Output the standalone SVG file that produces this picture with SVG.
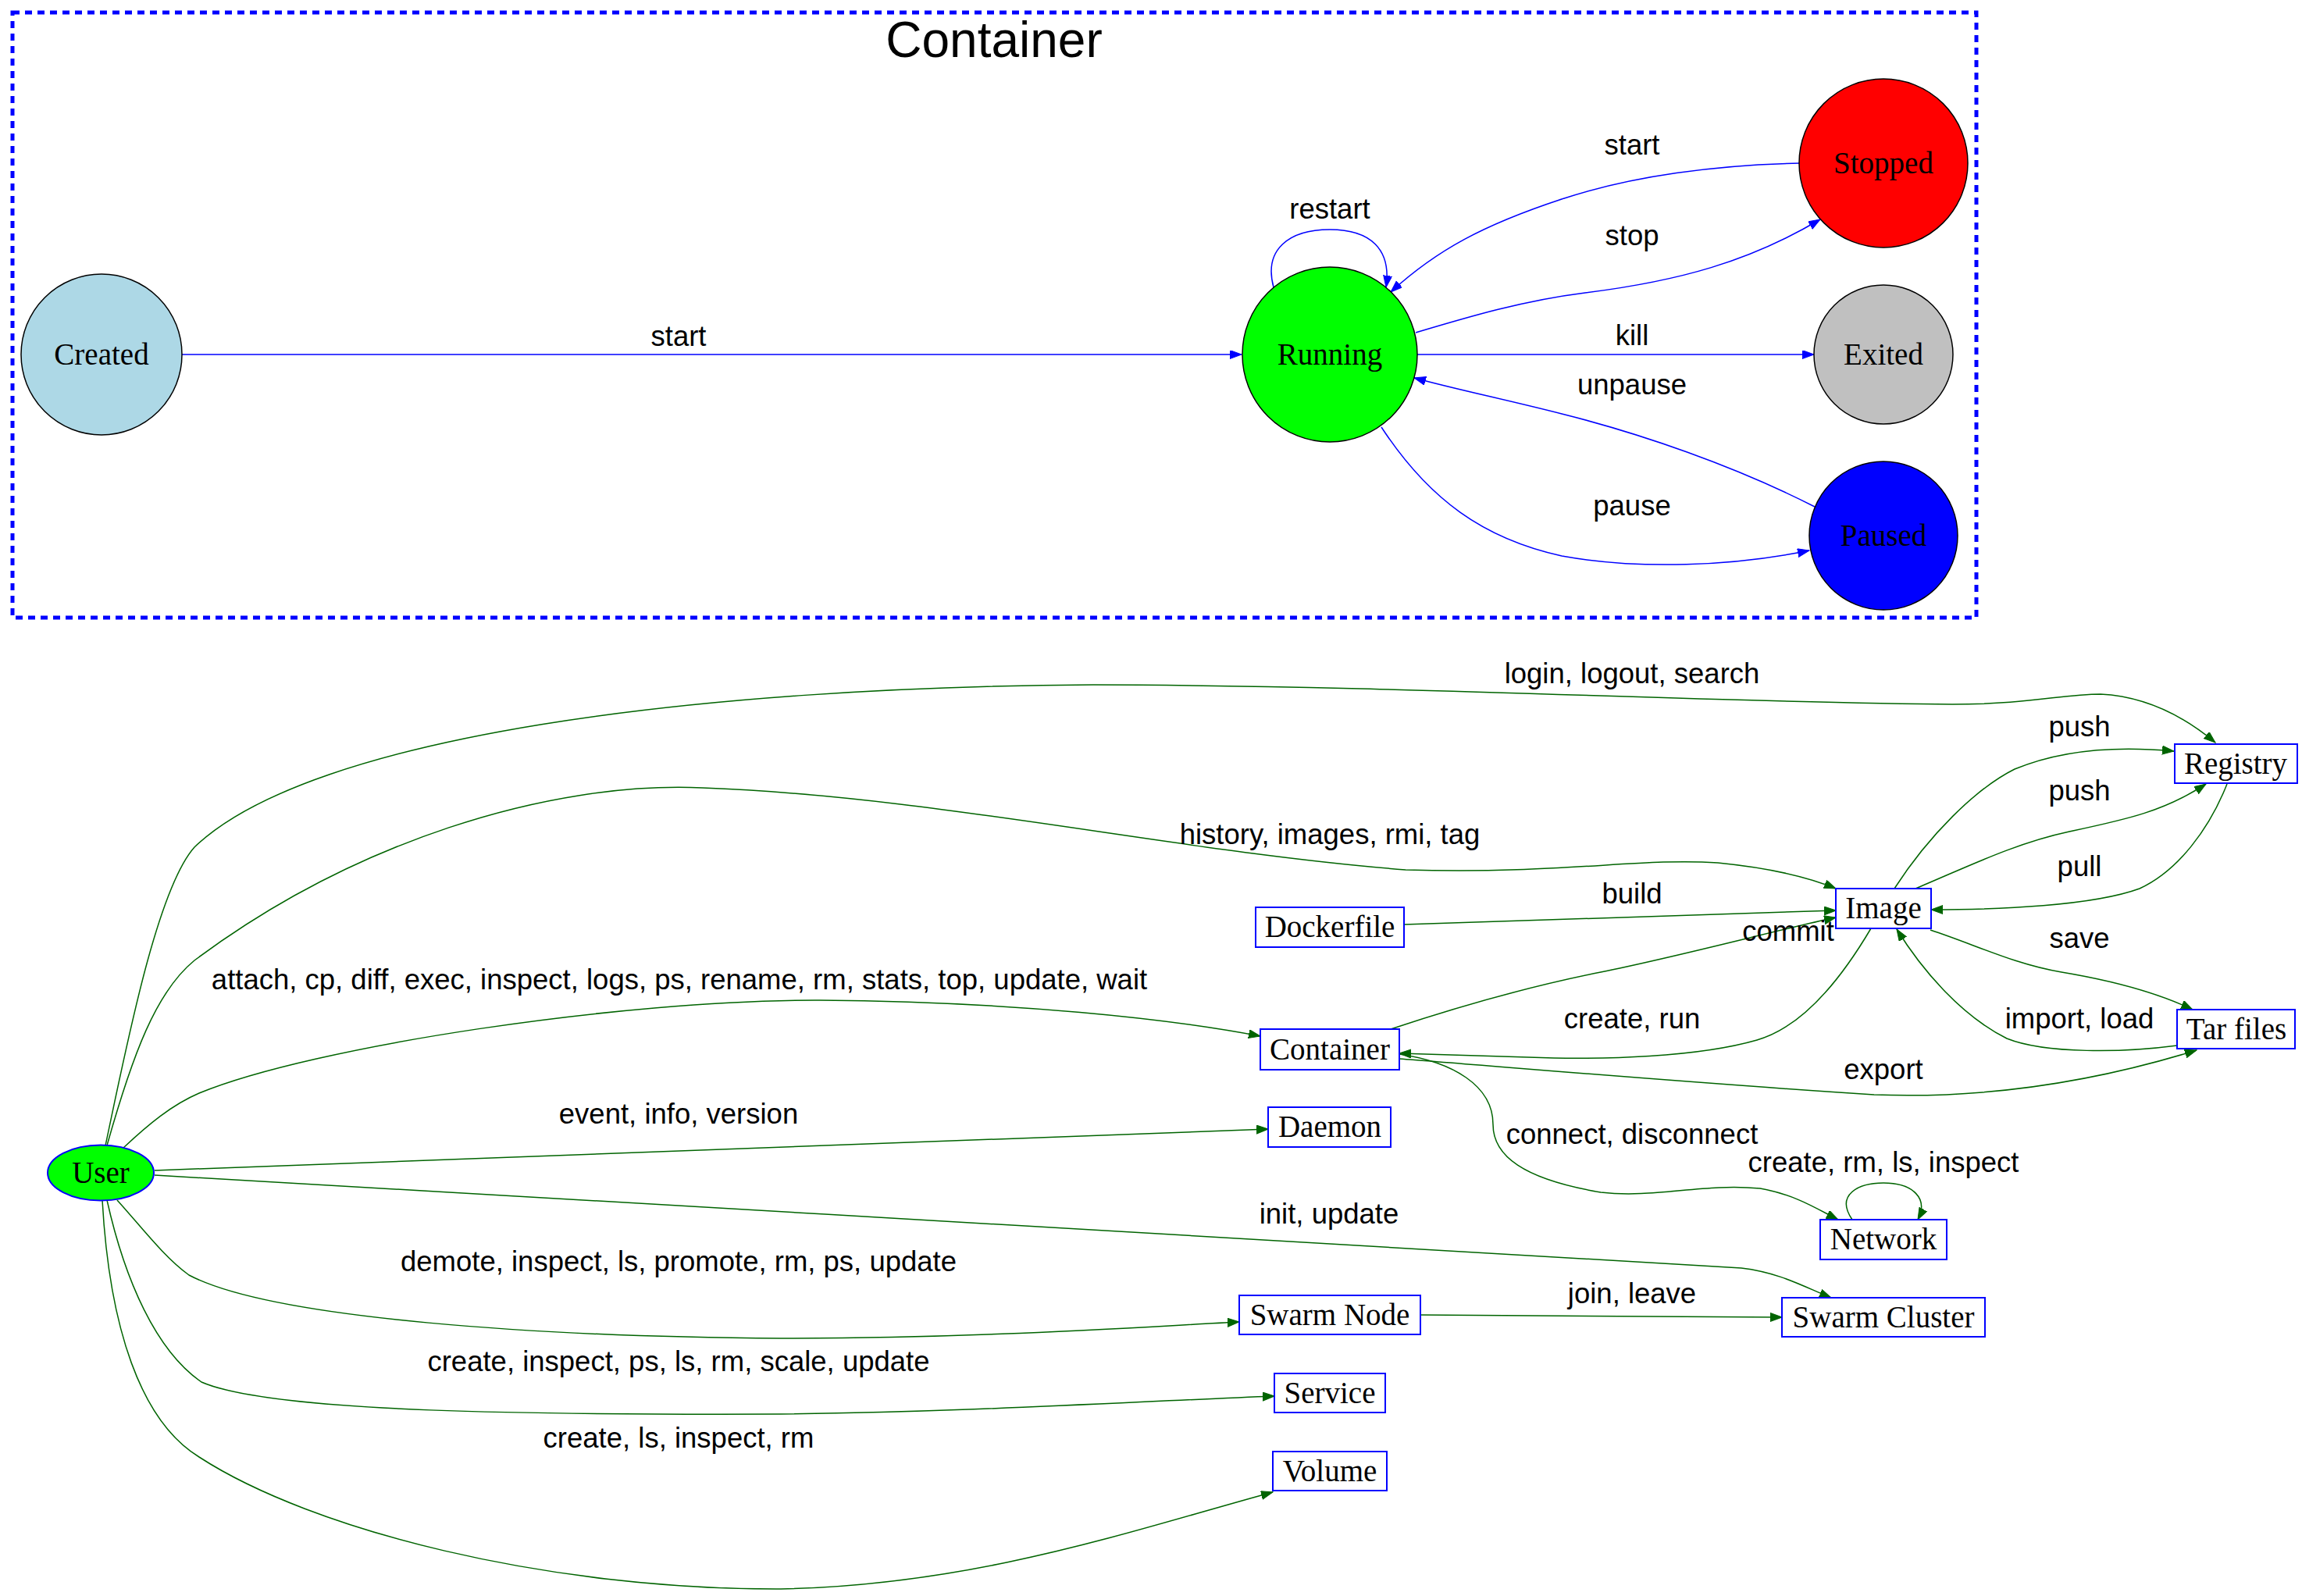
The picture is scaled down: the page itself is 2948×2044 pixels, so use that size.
<svg xmlns="http://www.w3.org/2000/svg" width="2948" height="2044" viewBox="0 0 2948 2044">
<style>
.lbl{font-family:"Liberation Sans",Arial,sans-serif;font-size:36.5px;fill:#000;text-anchor:middle}
.nt{font-family:"Liberation Serif","Times New Roman",serif;font-size:39px;fill:#000;text-anchor:middle}
.be{fill:none;stroke:#0000ff;stroke-width:1.5}
.ge{fill:none;stroke:#006400;stroke-width:1.5}
.st{stroke:#000;stroke-width:1.5}
.bx{fill:#fff;stroke:#0000ff;stroke-width:2}
</style>
<defs>
<marker id="ab" markerUnits="userSpaceOnUse" markerWidth="16" markerHeight="12" refX="15" refY="5.5" orient="auto"><path d="M0,0 L15,5.5 L0,11 z" fill="#0000ff" stroke="#0000ff" stroke-width="1"/></marker>
<marker id="ag" markerUnits="userSpaceOnUse" markerWidth="16" markerHeight="12" refX="15" refY="5.5" orient="auto"><path d="M0,0 L15,5.5 L0,11 z" fill="#006400" stroke="#006400" stroke-width="1"/></marker>
</defs>
<rect width="2948" height="2044" fill="#fff"/>
<g id="cluster_container">
<rect x="16" y="16" width="2515" height="775" fill="none" stroke="#0000ff" stroke-width="5" stroke-dasharray="9 7"/>
<text x="1273" y="73" font-family="Liberation Sans,Arial,sans-serif" font-size="64" text-anchor="middle">Container</text>
</g>
<g id="edges">
<path class="be" d="M233,454 L1590,454" marker-end="url(#ab)"/>
<path class="be" d="M1631,368 C1618,320 1650,294 1703,294 C1756,294 1782,320 1775,368" marker-end="url(#ab)"/>
<path class="be" d="M2305,209 C2200,211 2090,225 2000,255 C1900,288 1840,320 1781,374" marker-end="url(#ab)"/>
<path class="be" d="M1813,426 C1880,406 1950,385 2030,375 C2150,360 2240,335 2331,281" marker-end="url(#ab)"/>
<path class="be" d="M1815,454 L2323,454" marker-end="url(#ab)"/>
<path class="be" d="M2324,649 C2220,596 2100,555 2000,530 C1930,512 1870,500 1811,484" marker-end="url(#ab)"/>
<path class="be" d="M1769,547 C1830,640 1900,690 2000,712 C2100,730 2220,725 2317,705" marker-end="url(#ab)"/>
<text class="lbl" x="869" y="443">start</text>
<text class="lbl" x="1703" y="280">restart</text>
<text class="lbl" x="2090" y="198">start</text>
<text class="lbl" x="2090" y="314">stop</text>
<text class="lbl" x="2090" y="442">kill</text>
<text class="lbl" x="2090" y="505">unpause</text>
<text class="lbl" x="2090" y="660">pause</text>

<path class="ge" d="M135,1467 C160,1350 200,1140 249,1085 C400,940 900,880 1400,877 C1800,878 2200,900 2500,902 C2600,902 2640,889 2690,889 C2750,892 2800,920 2837,951" marker-end="url(#ag)"/>
<path class="ge" d="M137,1467 C170,1350 200,1270 249,1230 C450,1080 700,1000 900,1009 C1200,1020 1500,1090 1800,1114 C2000,1120 2100,1098 2200,1105 C2270,1112 2320,1125 2351,1138" marker-end="url(#ag)"/>
<path class="ge" d="M1798,1184 L2351,1166" marker-end="url(#ag)"/>
<path class="ge" d="M1781,1318 C1850,1295 1950,1265 2050,1245 C2150,1225 2280,1190 2351,1175" marker-end="url(#ag)"/>
<path class="ge" d="M2396,1189 C2360,1250 2310,1315 2250,1332 C2170,1355 2050,1356 1990,1355 C1920,1353 1850,1351 1792,1349" marker-end="url(#ag)"/>
<path class="ge" d="M1792,1356 C1900,1364 2150,1386 2400,1402 C2560,1408 2700,1380 2813,1345" marker-end="url(#ag)"/>
<path class="ge" d="M1792,1350 C1860,1360 1912,1390 1912,1440 C1912,1480 1950,1510 2050,1527 C2120,1535 2180,1515 2254,1522 C2300,1530 2330,1550 2354,1562" marker-end="url(#ag)"/>
<path class="ge" d="M2372,1562 C2350,1530 2380,1515 2412,1515 C2450,1515 2470,1535 2456,1562" marker-end="url(#ag)"/>
<path class="ge" d="M2426,1138 C2470,1070 2530,1010 2580,985 C2640,960 2710,955 2784,962" marker-end="url(#ag)"/>
<path class="ge" d="M2453,1138 C2520,1110 2580,1080 2650,1065 C2720,1050 2770,1040 2825,1004" marker-end="url(#ag)"/>
<path class="ge" d="M2852,1004 C2830,1060 2790,1115 2740,1138 C2680,1160 2560,1165 2473,1165" marker-end="url(#ag)"/>
<path class="ge" d="M2472,1191 C2530,1210 2580,1235 2640,1245 C2700,1255 2760,1270 2808,1293" marker-end="url(#ag)"/>
<path class="ge" d="M2788,1339 C2720,1348 2620,1350 2570,1330 C2510,1300 2460,1240 2429,1190" marker-end="url(#ag)"/>
<path class="ge" d="M158,1470 C190,1440 220,1415 255,1400 C400,1340 800,1280 1050,1281 C1300,1283 1500,1305 1614,1327" marker-end="url(#ag)"/>
<path class="ge" d="M198,1499 L1624,1446" marker-end="url(#ag)"/>
<path class="ge" d="M198,1505 C800,1540 2000,1610 2230,1624 C2280,1630 2310,1648 2345,1662" marker-end="url(#ag)"/>
<path class="ge" d="M150,1537 C180,1570 210,1610 242,1633 C350,1690 700,1712 1000,1714 C1250,1714 1450,1700 1587,1693" marker-end="url(#ag)"/>
<path class="ge" d="M1819,1684 L2282,1687" marker-end="url(#ag)"/>
<path class="ge" d="M137,1537 C160,1640 200,1730 258,1770 C350,1810 700,1812 1000,1811 C1250,1808 1450,1795 1632,1788" marker-end="url(#ag)"/>
<path class="ge" d="M131,1537 C140,1700 180,1820 255,1866 C400,1960 700,2036 1000,2035 C1250,2030 1450,1960 1630,1911" marker-end="url(#ag)"/>
<text class="lbl" x="2090" y="875">login, logout, search</text>
<text class="lbl" x="1703" y="1081">history, images, rmi, tag</text>
<text class="lbl" x="2090" y="1157">build</text>
<text class="lbl" x="2290" y="1205">commit</text>
<text class="lbl" x="2663" y="943">push</text>
<text class="lbl" x="2663" y="1025">push</text>
<text class="lbl" x="2663" y="1122">pull</text>
<text class="lbl" x="2663" y="1214">save</text>
<text class="lbl" x="2663" y="1317">import, load</text>
<text class="lbl" x="2412" y="1382">export</text>
<text class="lbl" x="2090" y="1317">create, run</text>
<text class="lbl" x="870" y="1267">attach, cp, diff, exec, inspect, logs, ps, rename, rm, stats, top, update, wait</text>
<text class="lbl" x="869" y="1439">event, info, version</text>
<text class="lbl" x="2090" y="1465">connect, disconnect</text>
<text class="lbl" x="2412" y="1501">create, rm, ls, inspect</text>
<text class="lbl" x="1702" y="1567">init, update</text>
<text class="lbl" x="869" y="1628">demote, inspect, ls, promote, rm, ps, update</text>
<text class="lbl" x="2090" y="1669">join, leave</text>
<text class="lbl" x="869" y="1756">create, inspect, ps, ls, rm, scale, update</text>
<text class="lbl" x="869" y="1854">create, ls, inspect, rm</text>
</g>
<g id="Created"><circle class="st" cx="130" cy="454" r="103" fill="#add8e6"/><text class="nt" x="130" y="467">Created</text></g>
<g id="Running"><circle class="st" cx="1703" cy="454" r="112" fill="#00ff00"/><text class="nt" x="1703" y="467">Running</text></g>
<g id="Stopped"><circle class="st" cx="2412" cy="209" r="108" fill="#ff0000"/><text class="nt" x="2412" y="222">Stopped</text></g>
<g id="Exited"><circle class="st" cx="2412" cy="454" r="89" fill="#c0c0c0"/><text class="nt" x="2412" y="467">Exited</text></g>
<g id="Paused"><circle class="st" cx="2412" cy="686" r="95" fill="#0000ff"/><text class="nt" x="2412" y="699">Paused</text></g>
<g id="User"><ellipse cx="129" cy="1502" rx="68" ry="35.5" fill="#00ff00" stroke="#0000ff" stroke-width="2"/><text class="nt" x="129" y="1515">User</text></g>
<g id="Dockerfile"><rect class="bx" x="1608" y="1162" width="190" height="51"/><text class="nt" x="1703" y="1200">Dockerfile</text></g>
<g id="ContainerNode"><rect class="bx" x="1614" y="1318" width="178" height="52"/><text class="nt" x="1703" y="1357">Container</text></g>
<g id="Daemon"><rect class="bx" x="1624" y="1418" width="157" height="51"/><text class="nt" x="1703" y="1456">Daemon</text></g>
<g id="SwarmNode"><rect class="bx" x="1587" y="1659" width="232" height="50"/><text class="nt" x="1703" y="1697">Swarm Node</text></g>
<g id="Service"><rect class="bx" x="1632" y="1759" width="142" height="50"/><text class="nt" x="1703" y="1797">Service</text></g>
<g id="Volume"><rect class="bx" x="1630" y="1859" width="146" height="50"/><text class="nt" x="1703" y="1897">Volume</text></g>
<g id="Registry"><rect class="bx" x="2785" y="953" width="157" height="50"/><text class="nt" x="2863" y="991">Registry</text></g>
<g id="Image"><rect class="bx" x="2351" y="1138" width="122" height="51"/><text class="nt" x="2412" y="1176">Image</text></g>
<g id="TarFiles"><rect class="bx" x="2788" y="1293" width="151" height="50"/><text class="nt" x="2864" y="1331">Tar files</text></g>
<g id="Network"><rect class="bx" x="2331" y="1562" width="162" height="51"/><text class="nt" x="2412" y="1600">Network</text></g>
<g id="SwarmCluster"><rect class="bx" x="2282" y="1662" width="260" height="50"/><text class="nt" x="2412" y="1700">Swarm Cluster</text></g>
</svg>
